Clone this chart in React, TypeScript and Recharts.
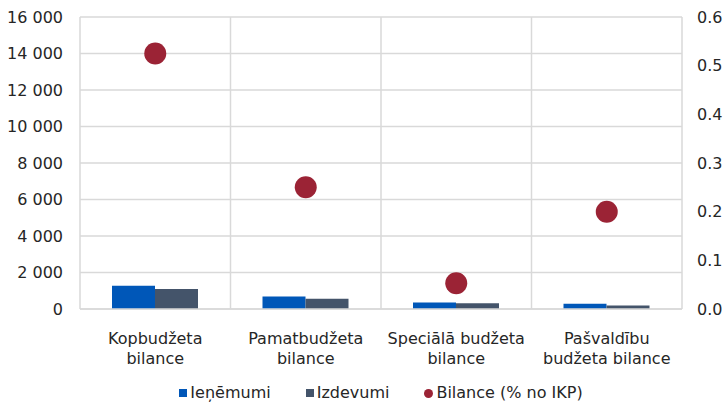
import React from "react";
import {
  ComposedChart,
  Bar,
  Scatter,
  XAxis,
  YAxis,
  CartesianGrid,
  Legend,
} from "recharts";

if (typeof document !== "undefined") {
  document.body.style.margin = "0";
}

const categories = [
  "Kopbudžeta\nbilance",
  "Pamatbudžeta\nbilance",
  "Speciālā budžeta\nbilance",
  "Pašvaldību\nbudžeta bilance",
];
const ienemumi = [1280, 680, 350, 290];
const izdevumi = [1090, 560, 310, 190];
const bilance = [0.525, 0.25, 0.053, 0.2];
const leftTicks = [0, 2000, 4000, 6000, 8000, 10000, 12000, 14000, 16000];
const rightTicks = [0, 0.1, 0.2, 0.3, 0.4, 0.5, 0.6];

const seriesNames = ["Ieņēmumi", "Izdevumi", "Bilance (% no IKP)"];
const COLORS = ["#0057B8", "#44546A", "#9B2335"];
const FONT = "'DejaVu Sans', Verdana, sans-serif";
const TEXT = "#262626";
const FS = 16;

const data = categories.map((c, i) => ({
  name: c,
  ienemumi: ienemumi[i],
  izdevumi: izdevumi[i],
  bilance: bilance[i],
}));

const fmtThousands = (v: number) =>
  v === 0 ? "0" : String(v).replace(/\B(?=(\d{3})+(?!\d))/g, " ");

// vertical grid lines at category boundaries
const boundaryLines = ({ offset }: any) => {
  const n = categories.length;
  const out: number[] = [];
  for (let i = 0; i <= n; i++) out.push(offset.left + (offset.width * i) / n);
  return out;
};

const CatTick = (props: any) => {
  const { x, y, payload } = props;
  const lines = String(payload.value).split("\n");
  return (
    <text
      x={x}
      y={y}
      textAnchor="middle"
      fill={TEXT}
      fontSize={FS}
      fontFamily={FONT}
    >
      {lines.map((l, i) => (
        <tspan key={i} x={x} dy={i === 0 ? 27 : 19.5}>
          {l}
        </tspan>
      ))}
    </text>
  );
};

const Dot = (props: any) => {
  const { cx, cy } = props;
  if (cx == null || cy == null) return null;
  return <circle cx={cx} cy={cy} r={11} fill={COLORS[2]} />;
};

const LegendContent = () => (
  <div
    style={{
      display: "flex",
      justifyContent: "center",
      alignItems: "center",
      fontFamily: FONT,
      fontSize: FS,
      color: TEXT,
      whiteSpace: "nowrap",
      lineHeight: "20px",
    }}
  >
    {seriesNames.map((n, i) => (
      <div
        key={n}
        style={{
          display: "flex",
          alignItems: "center",
          marginRight: i < seriesNames.length - 1 ? 35 : 0,
        }}
      >
        <span
          style={{
            display: "inline-block",
            width: i === 2 ? 9 : 8,
            height: i === 2 ? 9 : 8,
            borderRadius: i === 2 ? "50%" : 0,
            background: COLORS[i],
            marginRight: 3,
          }}
        />
        <span>{n}</span>
      </div>
    ))}
  </div>
);

export default function App() {
  return (
    <ComposedChart
      width={725}
      height={403}
      data={data}
      margin={{ top: 17, right: 0, bottom: 0, left: 0 }}
      barGap={0}
    >
      <CartesianGrid
        yAxisId="left"
        stroke="#d9d9d9"
        strokeWidth={1.5}
        verticalCoordinatesGenerator={boundaryLines}
      />
      <XAxis
        dataKey="name"
        axisLine={{ stroke: "#d9d9d9", strokeWidth: 1.5 }}
        tickLine={false}
        tick={<CatTick />}
        interval={0}
        height={74}
      />
      <YAxis
        yAxisId="left"
        domain={[0, 16000]}
        ticks={leftTicks}
        tickFormatter={fmtThousands}
        axisLine={false}
        tickLine={false}
        tickSize={0}
        tickMargin={17}
        width={80}
        tick={{ fill: TEXT, fontSize: FS, fontFamily: FONT }}
        interval={0}
      />
      <YAxis
        yAxisId="right"
        orientation="right"
        domain={[0, 0.6]}
        ticks={rightTicks}
        tickFormatter={(v: number) => v.toFixed(1)}
        axisLine={false}
        tickLine={false}
        tickSize={0}
        tickMargin={15}
        width={43}
        tick={{ fill: TEXT, fontSize: FS, fontFamily: FONT, textAnchor: "start" }}
        interval={0}
      />
      <Bar
        yAxisId="left"
        dataKey="ienemumi"
        name={seriesNames[0]}
        fill={COLORS[0]}
        barSize={43}
        isAnimationActive={false}
      />
      <Bar
        yAxisId="left"
        dataKey="izdevumi"
        name={seriesNames[1]}
        fill={COLORS[1]}
        barSize={43}
        isAnimationActive={false}
      />
      <Scatter
        yAxisId="right"
        dataKey="bilance"
        name={seriesNames[2]}
        fill={COLORS[2]}
        shape={<Dot />}
        isAnimationActive={false}
      />
      <Legend
        verticalAlign="bottom"
        height={20}
        content={<LegendContent />}
        wrapperStyle={{ left: 80, width: 602, bottom: 0 }}
      />
    </ComposedChart>
  );
}
